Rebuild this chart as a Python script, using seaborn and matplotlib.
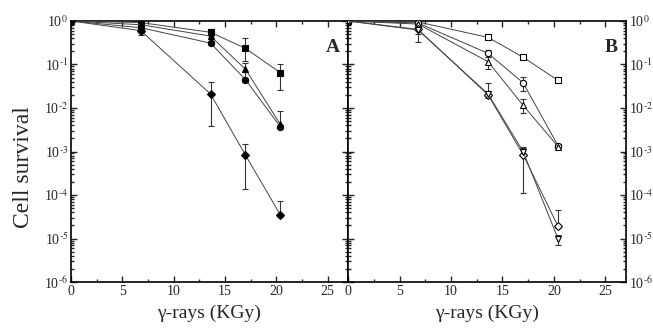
import numpy as np
import pandas as pd
import matplotlib
matplotlib.use("Agg")
import matplotlib.pyplot as plt
import seaborn as sns
from matplotlib.ticker import LogLocator, MultipleLocator, NullFormatter, FuncFormatter

# dose points (KGy)
dose = [0, 6.8, 13.6, 17.0, 20.4]

# panel A (filled symbols): value, lower and upper error limits
a_sq = [1, 0.92, 0.55, 0.235, 0.065]
a_sq_lo = [1, 0.86, 0.45, 0.12, 0.026]
a_sq_hi = [1, 0.98, 0.65, 0.41, 0.10]
a_tri = [1, 0.82, 0.45, 0.078, 0.0042]
a_tri_lo = [1, 0.78, 0.40, 0.045, 0.0035]
a_tri_hi = [1, 0.86, 0.50, 0.11, 0.0085]
a_circ = [1, 0.70, 0.31, 0.045, 0.0037]
a_circ_lo = [1, 0.66, 0.28, 0.040, 0.0034]
a_circ_hi = [1, 0.74, 0.34, 0.050, 0.0041]
a_dia = [1, 0.60, 0.021, 0.00083, 3.5e-5]
a_dia_lo = [1, 0.48, 0.0038, 0.00014, 3.2e-5]
a_dia_hi = [1, 0.72, 0.040, 0.0015, 7.2e-5]

# panel B (open symbols)
b_sq = [1, 0.95, 0.42, 0.147, 0.043]
b_sq_lo = [1, 0.92, 0.38, 0.135, 0.040]
b_sq_hi = [1, 0.98, 0.47, 0.160, 0.047]
b_circ = [1, 0.90, 0.18, 0.038, 0.00135]
b_circ_lo = [1, 0.85, 0.15, 0.025, 0.0012]
b_circ_hi = [1, 0.95, 0.22, 0.052, 0.0015]
b_tri = [1, 0.85, 0.116, 0.0115, 0.0013]
b_tri_lo = [1, 0.80, 0.080, 0.0075, 0.0012]
b_tri_hi = [1, 0.90, 0.150, 0.016, 0.0014]
b_dia = [1, 0.64, 0.020, 0.00085, 1.9e-5]
b_dia_lo = [1, 0.33, 0.017, 0.00011, 1.7e-5]
b_dia_hi = [1, 0.80, 0.037, 0.0013, 4.5e-5]
b_dtri = [1, 0.62, 0.021, 0.0010, 9.8e-6]
b_dtri_lo = [1, 0.50, 0.018, 0.0008, 7.0e-6]
b_dtri_hi = [1, 0.75, 0.025, 0.0012, 1.2e-5]

sns.set_style("ticks")
plt.rcParams["font.family"] = ["Liberation Serif", "DejaVu Serif"]
plt.rcParams["mathtext.fontset"] = "stix"


def pow_label(v, pos):
    n = int(round(np.log10(v)))
    if n == 0:
        return r"10$^{0}$"
    return r"10$^{\text{-}%d}$" % (-n)


fig = plt.figure(figsize=(6.53, 3.28), dpi=100)
axA = fig.add_axes([0.1087, 0.1402, 0.4243, 0.7958])
axB = fig.add_axes([0.533, 0.1402, 0.4257, 0.7958])

panels = [
    (axA, "A", [
        (a_sq, a_sq_lo, a_sq_hi, "s", True),
        (a_tri, a_tri_lo, a_tri_hi, "^", True),
        (a_circ, a_circ_lo, a_circ_hi, "o", True),
        (a_dia, a_dia_lo, a_dia_hi, "D", True),
    ]),
    (axB, "B", [
        (b_sq, b_sq_lo, b_sq_hi, "s", False),
        (b_circ, b_circ_lo, b_circ_hi, "o", False),
        (b_tri, b_tri_lo, b_tri_hi, "^", False),
        (b_dia, b_dia_lo, b_dia_hi, "D", False),
        (b_dtri, b_dtri_lo, b_dtri_hi, "v", False),
    ]),
]

for ax, tag, series in panels:
    for vals, lo, hi, mk, filled in series:
        df = pd.DataFrame({"dose": dose, "surv": vals})
        vals_a = np.array(vals)
        yerr = [vals_a - np.array(lo), np.array(hi) - vals_a]
        ax.errorbar(dose, vals, yerr=yerr, fmt="none", ecolor="#333333",
                    elinewidth=0.8, capsize=2, capthick=0.8, zorder=2)
        sns.lineplot(data=df, x="dose", y="surv", ax=ax, color="#444444",
                     linewidth=0.7, marker=mk,
                     markersize=4.5 if mk != "D" else 3.8,
                     markerfacecolor="black" if filled else "white",
                     markeredgecolor="black", markeredgewidth=0.8, zorder=3)

    ax.set_yscale("log")
    ax.set_ylim(1e-6, 1)
    ax.set_xlim(0, 27)
    ax.xaxis.set_major_locator(MultipleLocator(5))
    ax.xaxis.set_minor_locator(MultipleLocator(2.5))
    ax.yaxis.set_major_locator(LogLocator(base=10, numticks=10))
    ax.yaxis.set_major_formatter(FuncFormatter(pow_label))
    ax.yaxis.set_minor_locator(LogLocator(base=10, subs=np.arange(2, 10), numticks=20))
    ax.yaxis.set_minor_formatter(NullFormatter())
    ax.tick_params(which="both", direction="in", top=True, right=True,
                   labelsize=10, width=1.0, pad=2)
    ax.tick_params(which="major", length=4)
    ax.tick_params(which="minor", length=2)
    for sp in ax.spines.values():
        sp.set_linewidth(1.2)
        sp.set_color("black")
    ax.set_xlabel("γ-rays (KGy)", fontsize=14, labelpad=5)
    ax.set_ylabel("")
    ax.text(0.97, 0.93, tag, transform=ax.transAxes, ha="right", va="top",
            fontsize=14, fontweight="bold")

axA.set_ylabel("Cell survival", fontsize=17, labelpad=4)
axA.yaxis.set_label_coords(-0.132, 0.44)
axB.tick_params(axis="y", which="both", labelleft=False, labelright=True)

fig.savefig("out.png", dpi=100)
